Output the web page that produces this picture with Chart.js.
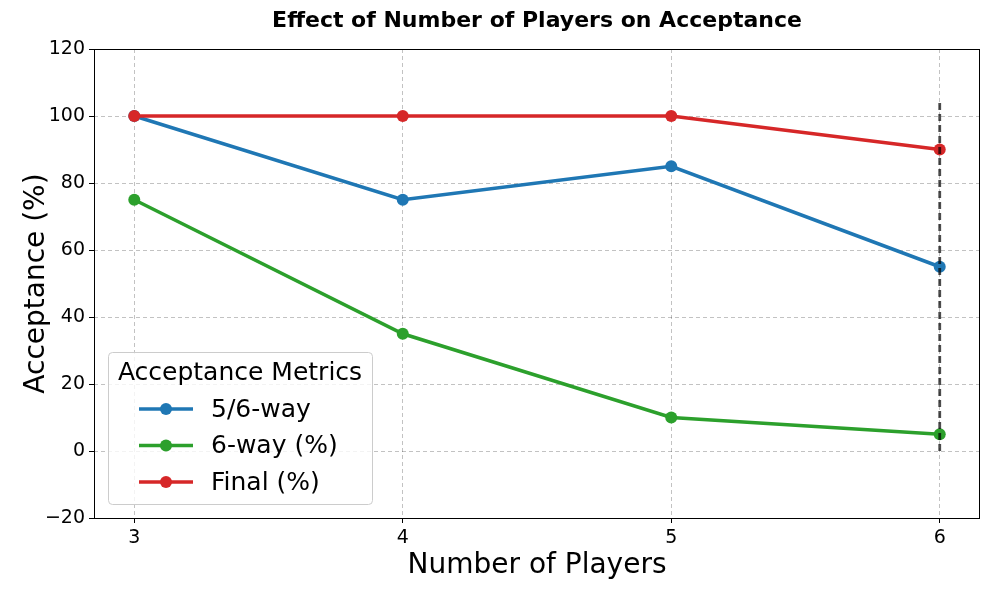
<!DOCTYPE html>
<html>
<head>
<meta charset="utf-8">
<script src="https://cdn.jsdelivr.net/npm/chart.js@4.4.1/dist/chart.umd.min.js"></script>
<style>
  html, body { margin: 0; padding: 0; background: #fff; }
  #wrap { width: 989px; height: 590px; position: relative; }
</style>
</head>
<body>
<div id="wrap"><canvas id="chart" width="989" height="590"></canvas></div>
<script>
const players = [3, 4, 5, 6];
const fiveSixWay = [100, 75, 85, 55];
const sixWay = [75, 35, 10, 5];
const finalPct = [100, 100, 100, 90];
const yTicks = [-20, 0, 20, 40, 60, 80, 100, 120];
// vertical marker at the last player count
const markerX = 6;
const markerSpan = [0, 105];
const chartTitle = 'Effect of Number of Players on Acceptance';

const FONT = "'DejaVu Sans', sans-serif";
const toPts = ys => players.map((x, i) => ({ x: x, y: ys[i] }));

const series = [
  { label: '5/6-way', data: toPts(fiveSixWay), color: '#1f77b4', order: 3 },
  { label: '6-way (%)', data: toPts(sixWay), color: '#2ca02c', order: 2 },
  { label: 'Final (%)', data: toPts(finalPct), color: '#d62728', order: 1 }
];

const frameAndExtras = {
  id: 'frameAndExtras',
  afterDatasetsDraw(chart) {
    const { ctx, chartArea: a, scales: { x, y } } = chart;
    ctx.save();
    // dashed marker line
    const px = x.getPixelForValue(markerX);
    ctx.strokeStyle = 'rgba(0,0,0,0.7)';
    ctx.lineWidth = 2.8;
    ctx.setLineDash([7, 4]);
    ctx.beginPath();
    ctx.moveTo(px, y.getPixelForValue(markerSpan[0]));
    ctx.lineTo(px, y.getPixelForValue(markerSpan[1]));
    ctx.stroke();
    ctx.setLineDash([]);
    // box around plot
    ctx.strokeStyle = '#000';
    ctx.lineWidth = 1;
    ctx.strokeRect(Math.round(a.left) + 0.5, Math.round(a.top) + 0.5, Math.round(a.right - a.left) - 1, Math.round(a.bottom - a.top));
    // title, centred over the plot area
    ctx.fillStyle = '#000';
    ctx.textAlign = 'center';
    ctx.textBaseline = 'middle';
    ctx.font = 'bold 22px ' + FONT;
    ctx.fillText(chartTitle, (a.left + a.right) / 2, 21);
    // legend
    const lx = a.left + 14, w = 264, h = 152;
    const ly = a.bottom - 14 - h;
    ctx.fillStyle = 'rgba(255,255,255,0.8)';
    ctx.strokeStyle = '#cccccc';
    ctx.lineWidth = 1;
    ctx.beginPath();
    ctx.roundRect(lx + 0.5, ly + 0.5, w, h, 4);
    ctx.fill();
    ctx.stroke();
    ctx.fillStyle = '#000';
    ctx.font = '25px ' + FONT;
    ctx.fillText('Acceptance Metrics', lx + w / 2, ly + 21);
    ctx.textAlign = 'left';
    series.forEach((s, i) => {
      const cy = ly + 57 + i * 36.5;
      ctx.strokeStyle = s.color;
      ctx.lineWidth = 3.5;
      ctx.beginPath();
      ctx.moveTo(lx + 31, cy);
      ctx.lineTo(lx + 85, cy);
      ctx.stroke();
      ctx.fillStyle = s.color;
      ctx.beginPath();
      ctx.arc(lx + 58, cy, 6, 0, Math.PI * 2);
      ctx.fill();
      ctx.fillStyle = '#000';
      ctx.fillText(s.label, lx + 103, cy + 1);
    });
    ctx.restore();
  }
};

const gridOpts = { color: 'rgba(0,0,0,0.24)', tickColor: '#000', tickLength: 5, tickBorderDash: [], lineWidth: 1 };

new Chart(document.getElementById('chart'), {
  type: 'line',
  data: {
    datasets: series.map(s => ({
      label: s.label,
      data: s.data,
      order: s.order,
      borderColor: s.color,
      backgroundColor: s.color,
      borderWidth: 3.5,
      pointRadius: 6,
      pointHoverRadius: 6,
      pointBorderWidth: 0,
      tension: 0,
      fill: false
    }))
  },
  options: {
    responsive: false,
    animation: false,
    layout: { padding: { left: 0, right: 9, top: 49, bottom: 0 } },
    plugins: {
      legend: { display: false },
      tooltip: { enabled: false },
      title: { display: false }
    },
    scales: {
      x: {
        type: 'linear',
        min: 2.85,
        max: 6.15,
        afterBuildTicks: s => { s.ticks = players.map(v => ({ value: v })); },
        afterFit: s => { s.height = 72; },
        ticks: { color: '#000', font: { family: FONT, size: 19 }, padding: 4 },
        grid: gridOpts,
        border: { display: false, dash: [4, 3] },
        title: { display: true, text: 'Number of Players', color: '#000', font: { family: FONT, size: 28 }, padding: { top: 2, bottom: 7 } }
      },
      y: {
        min: -20,
        max: 120,
        afterBuildTicks: s => { s.ticks = yTicks.map(v => ({ value: v })); },
        afterFit: s => { s.width = 94; },
        ticks: { color: '#000', font: { family: FONT, size: 19 }, padding: 4, callback: v => String(v).replace('-', '\u2212') },
        grid: gridOpts,
        border: { display: false, dash: [4, 3] },
        title: { display: true, text: 'Acceptance (%)', color: '#000', font: { family: FONT, size: 28 }, padding: { top: 20, bottom: 0 } }
      }
    }
  },
  plugins: [frameAndExtras]
});
</script>
</body>
</html>
